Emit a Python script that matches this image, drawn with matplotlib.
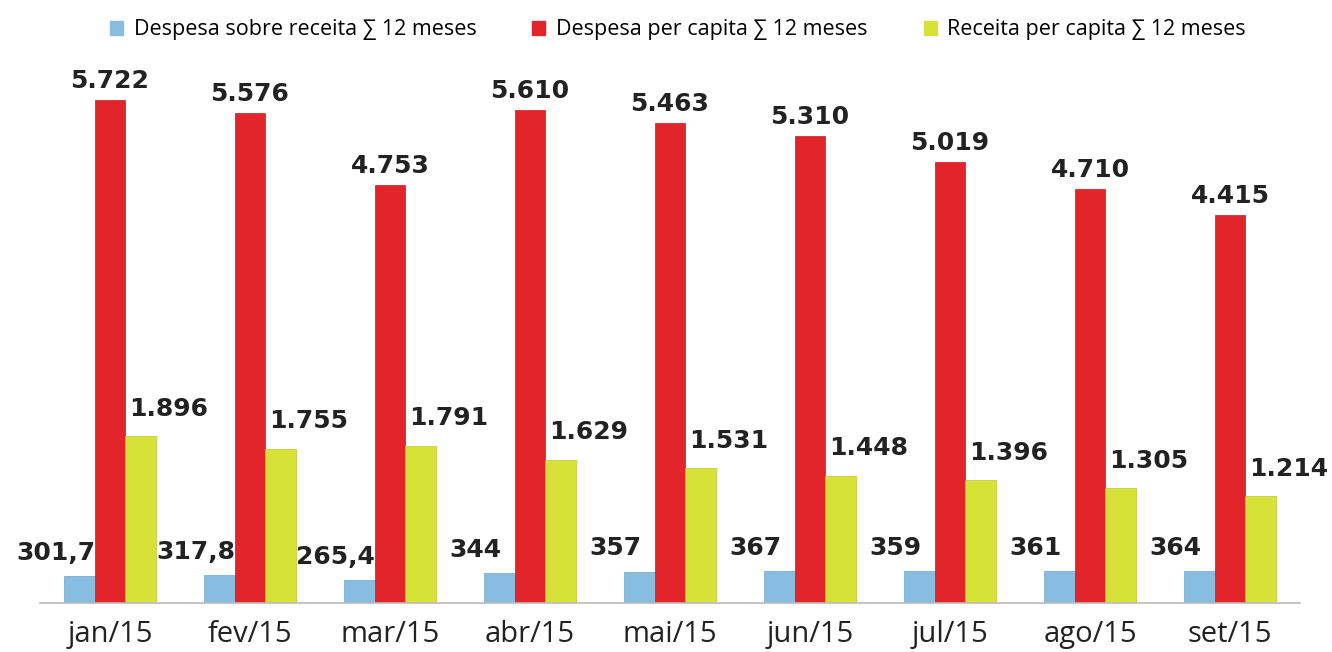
import matplotlib.pyplot as plt
from matplotlib.patches import Patch
import numpy as np

meses = ['jan/15', 'fev/15', 'mar/15', 'abr/15', 'mai/15', 'jun/15', 'jul/15', 'ago/15', 'set/15']
desp_sobre_rec = [301.7, 317.8, 265.4, 344, 357, 367, 359, 361, 364]
desp_per_capita = [5722, 5576, 4753, 5610, 5463, 5310, 5019, 4710, 4415]
rec_per_capita = [1896, 1755, 1791, 1629, 1531, 1448, 1396, 1305, 1214]

lbl_azul = ['301,7', '317,8', '265,4', '344', '357', '367', '359', '361', '364']
lbl_verm = ['5.722', '5.576', '4.753', '5.610', '5.463', '5.310', '5.019', '4.710', '4.415']
lbl_verde = ['1.896', '1.755', '1.791', '1.629', '1.531', '1.448', '1.396', '1.305', '1.214']

c_azul = '#86bde0'
c_verm = '#e2242b'
c_verde = '#d6e238'

fig = plt.figure(figsize=(13.32, 6.52), dpi=100)
ax = fig.add_axes([0.030, 0.0752, 0.946, 0.8328])

x = np.arange(len(meses))
w = 0.22
ax.bar(x - w, desp_sobre_rec, w, color=c_azul, edgecolor='#6fa6cc', linewidth=0.5)
ax.bar(x, desp_per_capita, w, color=c_verm, edgecolor='#c81a20', linewidth=0.5)
ax.bar(x + w, rec_per_capita, w, color=c_verde, edgecolor='#b8c82a', linewidth=0.5)

fs = 18
for i in range(len(meses)):
    ax.annotate(lbl_azul[i], (x[i] - w, desp_sobre_rec[i]), xytext=(-17, 8),
                textcoords='offset points', ha='center', va='bottom',
                fontsize=fs, fontweight='bold', color='#222222')
    ax.annotate(lbl_verm[i], (x[i], desp_per_capita[i]), xytext=(0, 5),
                textcoords='offset points', ha='center', va='bottom',
                fontsize=fs, fontweight='bold', color='#222222')
    ax.annotate(lbl_verde[i], (x[i] + w, rec_per_capita[i]), xytext=(20, 11),
                textcoords='offset points', ha='center', va='bottom',
                fontsize=fs, fontweight='bold', color='#222222')

ax.set_xlim(-0.5, 8.5)
ax.set_ylim(0, 6177)
ax.set_xticks(x)
ax.set_xticklabels(meses, fontsize=21, family='Open Sans', color='#222222')
ax.tick_params(axis='x', length=0, pad=12)
ax.set_yticks([])
for s in ['top', 'right', 'left']:
    ax.spines[s].set_visible(False)
ax.spines['bottom'].set_color('#bbbbbb')
ax.spines['bottom'].set_linewidth(1.2)

handles = [Patch(color=c_azul), Patch(color=c_verm), Patch(color=c_verde)]
nomes = ['Despesa sobre receita \u2211 12 meses', 'Despesa per capita \u2211 12 meses',
         'Receita per capita \u2211 12 meses']
fig.legend(handles, nomes, loc='center', bbox_to_anchor=(0.509, 0.954), ncol=3,
           frameon=False, handlelength=0.6, handleheight=0.6,
           handletextpad=0.5, columnspacing=2.6,
           prop={'family': ['Open Sans', 'DejaVu Sans'], 'size': 15.5})

fig.savefig('out.png', dpi=100)
